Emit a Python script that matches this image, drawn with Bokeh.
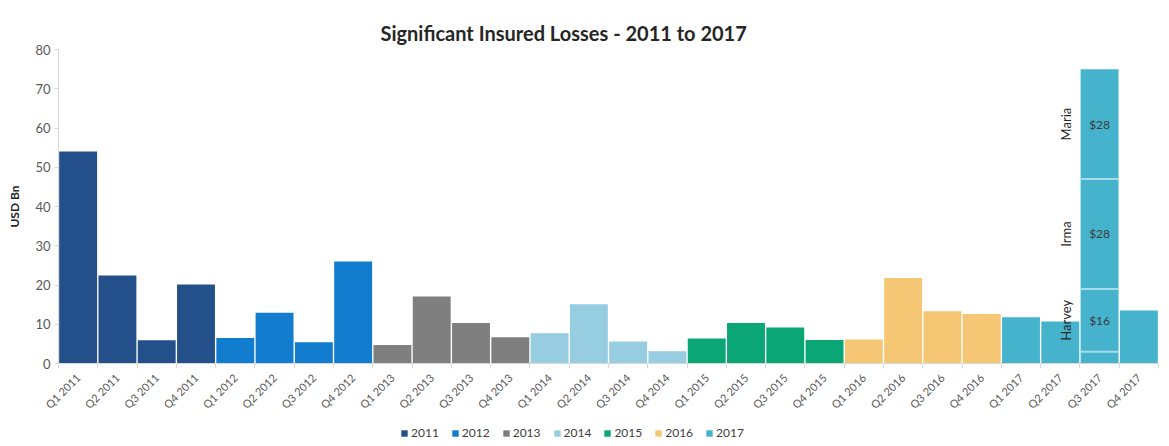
import math
from bokeh.plotting import figure
from bokeh.layouts import column
from bokeh.models import ColumnDataSource, FixedTicker, Legend, LegendItem, Range1d
from bokeh.core.properties import value
from bokeh.embed import file_html
from bokeh.resources import INLINE

# ---- data ----
quarters = [
    "Q1 2011", "Q2 2011", "Q3 2011", "Q4 2011",
    "Q1 2012", "Q2 2012", "Q3 2012", "Q4 2012",
    "Q1 2013", "Q2 2013", "Q3 2013", "Q4 2013",
    "Q1 2014", "Q2 2014", "Q3 2014", "Q4 2014",
    "Q1 2015", "Q2 2015", "Q3 2015", "Q4 2015",
    "Q1 2016", "Q2 2016", "Q3 2016", "Q4 2016",
    "Q1 2017", "Q2 2017", "Q3 2017", "Q4 2017",
]
years = ["2011", "2012", "2013", "2014", "2015", "2016", "2017"]
# insured losses, USD bn (Q3 2017 = part not attributed to the named hurricanes)
losses = [
    54.0, 22.4, 5.9, 20.1,
    6.5, 12.9, 5.4, 26.0,
    4.7, 17.1, 10.3, 6.7,
    7.7, 15.1, 5.6, 3.1,
    6.4, 10.3, 9.2, 6.0,
    6.1, 21.8, 13.3, 12.6,
    11.8, 10.7, 3.0, 13.5,
]
year_colors = ["#23508a", "#127ccf", "#7f7f7f", "#96cde0", "#0aa675", "#f5c774", "#46b3cd"]
hurricanes = ["Harvey", "Irma", "Maria"]
hurricane_losses = [16, 28, 28]
hurricane_labels = ["$16", "$28", "$28"]
hurricane_quarter = "Q3 2017"
y_ticks = [0, 10, 20, 30, 40, 50, 60, 70, 80]

FONT = "Lato"
W = 1161

p = figure(width=W, height=418, output_backend="svg", toolbar_location=None,
           x_range=Range1d(-0.5, len(quarters) - 0.5), y_range=Range1d(0, 80),
           min_border_left=58, min_border_right=3, min_border_top=49, min_border_bottom=55)
p.outline_line_color = None
p.background_fill_color = "white"
p.border_fill_color = "white"
p.xgrid.visible = False
p.ygrid.visible = False

p.title.text = "Significant Insured Losses - 2011 to 2017"
p.title.text_font = FONT
p.title.text_font_size = "20px"
p.title.text_font_style = "bold"
p.title.text_color = "#262626"
p.title.align = "left"
p.title.offset = 322
p.title.standoff = 9

# bars per year
year_sources = []
for yi, yr in enumerate(years):
    idx = [i for i, q in enumerate(quarters) if q.endswith(yr)]
    src = ColumnDataSource(dict(x=idx, top=[losses[i] for i in idx]))
    year_sources.append(src)
    p.vbar(x="x", top="top", bottom=0, width=0.965, source=src,
           fill_color=year_colors[yi], line_color=None)

# stacked hurricane segments on Q3 2017
hx = quarters.index(hurricane_quarter)
bottoms, tops = [], []
cum = losses[hx]
for v in hurricane_losses:
    bottoms.append(cum)
    cum += v
    tops.append(cum)
hsrc = ColumnDataSource(dict(x=[hx] * len(hurricanes), bottom=bottoms, top=tops,
                             mid=[(b + t) / 2 for b, t in zip(bottoms, tops)],
                             name=hurricanes, lab=hurricane_labels,
                             xl=[hx - 0.85] * len(hurricanes)))
p.vbar(x="x", bottom="bottom", top="top", width=0.965, source=hsrc,
       fill_color=year_colors[-1], line_color=None)
# light separators
p.segment(x0=[hx - 0.48] * (len(hurricanes)), x1=[hx + 0.48] * len(hurricanes),
          y0=bottoms, y1=bottoms, line_color="#a9dcea", line_width=2)
p.text(x="x", y="mid", text="lab", source=hsrc, text_align="center", text_baseline="middle",
       text_font=value(FONT), text_font_size="12px", text_color="#3a3a3a")
p.text(x="xl", y="mid", text="name", source=hsrc, angle=math.pi / 2,
       text_align="center", text_baseline="middle",
       text_font=value(FONT), text_font_size="13px", text_color="#262626")

# axes
ya = p.yaxis[0]
ya.ticker = FixedTicker(ticks=y_ticks)
ya.axis_label = "USD Bn"
ya.axis_label_text_font = FONT
ya.axis_label_text_font_style = "bold"
ya.axis_label_text_font_size = "12px"
ya.axis_label_text_color = "#262626"
ya.axis_label_standoff = 10
ya.major_label_text_font = FONT
ya.major_label_text_font_size = "13px"
ya.major_label_text_color = "#595959"
ya.major_label_standoff = 4
ya.axis_line_color = "#d9d9d9"
ya.major_tick_line_color = "#d9d9d9"
ya.major_tick_out = 4
ya.major_tick_in = 0
ya.minor_tick_line_color = None

xa = p.xaxis[0]
xa.ticker = FixedTicker(ticks=list(range(len(quarters))),
                        minor_ticks=[i - 0.5 for i in range(len(quarters) + 1)])
xa.major_label_overrides = {i: q for i, q in enumerate(quarters)}
xa.major_label_orientation = math.pi / 4
xa.major_label_text_font = FONT
xa.major_label_text_font_size = "11px"
xa.major_label_text_color = "#595959"
xa.major_label_standoff = 6
xa.major_tick_line_color = None
xa.minor_tick_line_color = "#d9d9d9"
xa.minor_tick_out = 5
xa.minor_tick_in = 0
xa.axis_line_color = "#d9d9d9"

# legend strip below the chart (its own bars are outside its visible range)
lf = figure(width=W, height=28, output_backend="svg", toolbar_location=None,
            x_range=Range1d(1000, 1001), y_range=Range1d(1000, 1001),
            min_border=0, min_border_left=0, min_border_right=0,
            min_border_top=0, min_border_bottom=0)
lf.axis.visible = False
lf.grid.visible = False
lf.outline_line_color = None
items = []
for yi, yr in enumerate(years):
    r = lf.vbar(x="x", top="top", bottom=0, width=0.9, source=year_sources[yi],
                fill_color=year_colors[yi], line_color=None)
    items.append(LegendItem(label=yr, renderers=[r]))
legend = Legend(items=items, orientation="horizontal", location=(342, 6),
                glyph_width=8, glyph_height=8, label_text_font=FONT,
                label_text_font_size="12px", label_text_color="#404040",
                spacing=12, label_standoff=3, border_line_color=None,
                background_fill_alpha=0, padding=2, margin=0)
lf.add_layout(legend)

layout = column(p, lf, spacing=0)
open("out.html", "w").write(file_html(layout, INLINE))
